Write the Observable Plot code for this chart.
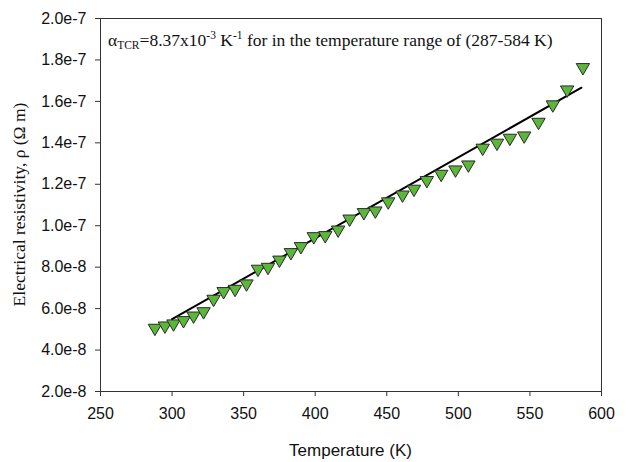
<!DOCTYPE html>
<html>
<head>
<meta charset="utf-8">
<script src="https://cdn.jsdelivr.net/npm/d3@7"></script>
<script src="https://cdn.jsdelivr.net/npm/@observablehq/plot@0.6"></script>
<style>
  html, body { margin: 0; padding: 0; background: #fff; }
  #chart { width: 633px; height: 462px; }
</style>
</head>
<body>
<div id="chart"></div>
<script>
// Temperature (K)
const temperature = [288, 295, 301, 308, 315, 322, 329, 336, 344, 352, 360, 367, 375, 383, 390, 399, 407, 416, 424, 434, 442, 451, 461, 469, 478, 488, 498, 507, 517, 527, 536, 546, 556, 566, 576, 587];
// Electrical resistivity (Ohm m)
const resistivity = [4.97e-8, 5.08e-8, 5.18e-8, 5.34e-8, 5.56e-8, 5.77e-8, 6.37e-8, 6.74e-8, 6.85e-8, 7.11e-8, 7.82e-8, 7.91e-8, 8.26e-8, 8.62e-8, 8.91e-8, 9.39e-8, 9.44e-8, 9.71e-8, 1.024e-7, 1.055e-7, 1.063e-7, 1.107e-7, 1.140e-7, 1.168e-7, 1.210e-7, 1.240e-7, 1.261e-7, 1.285e-7, 1.366e-7, 1.390e-7, 1.414e-7, 1.425e-7, 1.491e-7, 1.575e-7, 1.647e-7, 1.755e-7];
// Linear fit line (endpoints)
const fitTemperature = [300, 586];
const fitResistivity = [5.49e-8, 1.666e-7];
const xTicks = [250, 300, 350, 400, 450, 500, 550, 600];
const yTicks = [2e-8, 4e-8, 6e-8, 8e-8, 1e-7, 1.2e-7, 1.4e-7, 1.6e-7, 1.8e-7, 2e-7];
const xTitle = "Temperature (K)";
const yTitle = "Electrical resistivity, ρ (Ω m)";

const data = temperature.map((t, i) => ({t, rho: resistivity[i]}));
const fit = fitTemperature.map((t, i) => ({t, rho: fitResistivity[i]}));

const triangleDown = {
  draw(ctx, size) {
    const r = Math.sqrt(size / Math.PI);
    ctx.moveTo(-r * 1.08, -r * 0.92);
    ctx.lineTo(r * 1.08, -r * 0.92);
    ctx.lineTo(0, r * 0.92);
    ctx.closePath();
  }
};

const chart = Plot.plot({
  width: 633,
  height: 462,
  marginLeft: 100,
  marginRight: 32,
  marginTop: 18,
  marginBottom: 71,
  style: {fontFamily: "'Liberation Sans', Arial, sans-serif", fontSize: "16px", color: "#111", background: "#fff"},
  x: {domain: [250, 600]},
  y: {domain: [2e-8, 2e-7]},
  marks: [
    Plot.frame({stroke: "#333", strokeWidth: 1}),
    Plot.axisX(xTicks, {tickSize: 5, tickPadding: 11, label: null, stroke: "#333"}),
    Plot.axisY(yTicks, {tickSize: 5, tickPadding: 9, label: null, stroke: "#333", tickFormat: d => d.toExponential(1)}),
    Plot.line(fit, {x: "t", y: "rho", stroke: "#000", strokeWidth: 2}),
    Plot.dot(data, {x: "t", y: "rho", symbol: triangleDown, r: 6.2, fill: "#5cb63a", stroke: "#2a2a2a", strokeWidth: 1, fillOpacity: 1})
  ]
});
document.getElementById("chart").appendChild(chart);

const svg = d3.select(chart);
svg.append("text")
  .attr("x", 350.5).attr("y", 456)
  .attr("text-anchor", "middle")
  .style("font-family", "'Liberation Sans', Arial, sans-serif")
  .style("font-size", "17px")
  .attr("fill", "#111")
  .text(xTitle);

svg.append("text")
  .attr("transform", "translate(25,204.5) rotate(-90)")
  .attr("text-anchor", "middle")
  .style("font-family", "'Liberation Serif', 'Times New Roman', serif")
  .style("font-size", "17.5px")
  .attr("fill", "#111")
  .text(yTitle);

const ann = svg.append("text")
  .attr("x", 108).attr("y", 46)
  .attr("text-anchor", "start")
  .style("font-family", "'Liberation Serif', 'Times New Roman', serif")
  .style("font-size", "17.5px")
  .attr("fill", "#111");
ann.append("tspan").text("α");
ann.append("tspan").attr("font-size", "11.5px").attr("dy", 3).text("TCR");
ann.append("tspan").attr("dy", -3).text("=8.37x10");
ann.append("tspan").attr("font-size", "11.5px").attr("dy", -7).text("-3");
ann.append("tspan").attr("dy", 7).text(" K");
ann.append("tspan").attr("font-size", "11.5px").attr("dy", -7).text("-1");
ann.append("tspan").attr("dy", 7).text(" for in the temperature range of (287-584 K)");
</script>
</body>
</html>
